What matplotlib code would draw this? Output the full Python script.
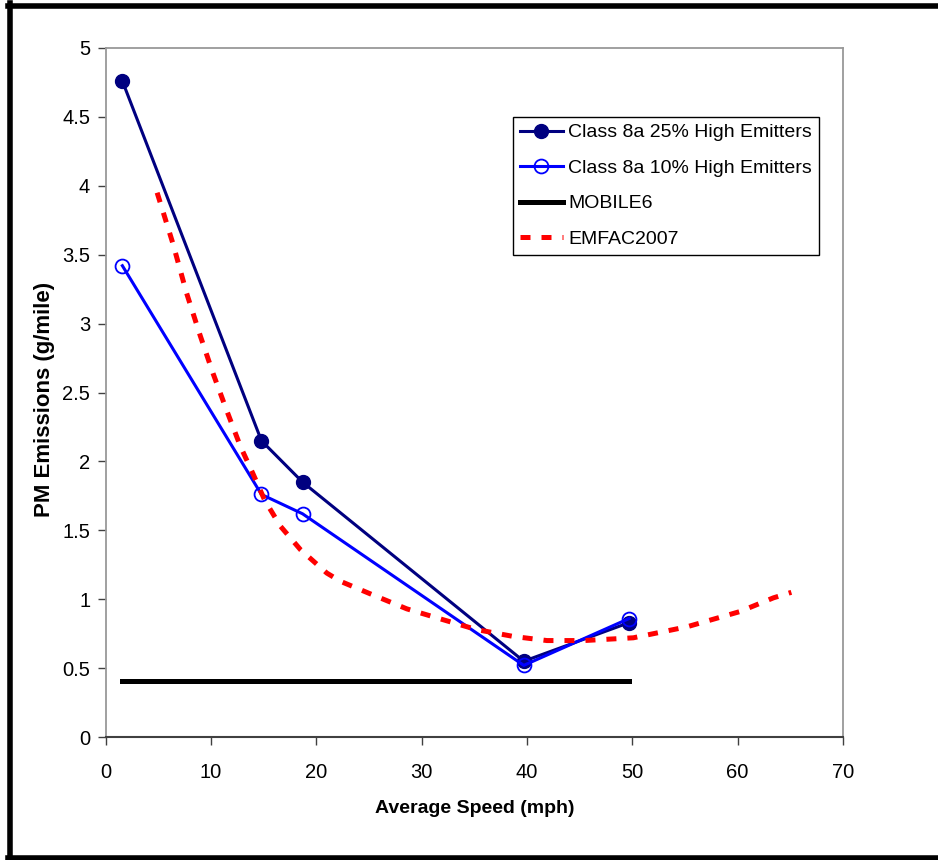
import matplotlib
matplotlib.use("Agg")
import matplotlib.pyplot as plt
from matplotlib.lines import Line2D

# speeds of the test cycles (mph)
speed = [1.6, 14.8, 18.7, 39.7, 49.7]
high25 = [4.76, 2.15, 1.85, 0.55, 0.83]
high10 = [3.42, 1.76, 1.62, 0.52, 0.86]
mobile6 = [0.41, 0.41, 0.41, 0.41, 0.41]

# EMFAC2007 curve
emfac_x = [4.9, 6.4, 7.7, 9.0, 10.2, 11.5, 12.8, 14.0, 15.1, 16.6, 18.5, 21.0,
           22.3, 25.1, 28.6, 32.1, 35.2, 38.7, 41.9, 45.4, 50.1, 55.2, 60.2, 63.4, 65.1]
emfac_y = [3.95, 3.58, 3.22, 2.91, 2.64, 2.37, 2.11, 1.91, 1.72, 1.53, 1.36, 1.19,
           1.13, 1.04, 0.93, 0.85, 0.78, 0.73, 0.70, 0.70, 0.72, 0.80, 0.91, 1.01, 1.05]

plt.rcParams['font.family'] = ['Liberation Sans', 'DejaVu Sans']

fig = plt.figure(figsize=(9.38, 8.60), dpi=100)
ax = fig.add_axes([0.1125, 0.143, 0.7862, 0.8012])

ax.plot(speed, high25, color='#000080', lw=2.2, marker='o', ms=10,
        mfc='#000080', mec='#000080', label='Class 8a 25% High Emitters')
ax.plot(speed, high10, color='#0000FF', lw=2.2, marker='o', ms=10,
        mfc='none', mec='#0000FF', mew=1.3, label='Class 8a 10% High Emitters')
ax.plot(speed, mobile6, color='black', lw=3.6, label='MOBILE6')
ax.plot(emfac_x, emfac_y, color='#FF0000', lw=3.6, dashes=(2, 2.2),
        label='EMFAC2007')

ax.set_xlim(0, 70)
ax.set_ylim(0, 5)
ax.set_xticks(range(0, 71, 10))
ax.set_yticks([0, 0.5, 1, 1.5, 2, 2.5, 3, 3.5, 4, 4.5, 5])
ax.set_yticklabels(['0', '0.5', '1', '1.5', '2', '2.5', '3', '3.5', '4', '4.5', '5'])
ax.tick_params(axis='both', direction='out', length=6, width=1, labelsize=14.5,
               color='#404040')
ax.tick_params(axis='x', pad=13)
ax.tick_params(axis='y', pad=5)

for s in ['left', 'top', 'right']:
    ax.spines[s].set_color('#999999')
    ax.spines[s].set_linewidth(1.3)
ax.spines['bottom'].set_color('#404040')
ax.spines['bottom'].set_linewidth(1.5)

ax.set_xlabel('Average Speed (mph)', fontsize=14, fontweight='bold')
ax.xaxis.set_label_coords(0.5, -0.091)
ax.xaxis.label.set_va('top')
ax.set_ylabel('PM Emissions (g/mile)', fontsize=16, fontweight='bold')
ax.yaxis.set_label_coords(-0.068, 0.49)

leg = ax.legend(loc='upper left', bbox_to_anchor=(0.5525, 0.90), borderaxespad=0,
                fontsize=14, fancybox=False, frameon=True, edgecolor='black',
                framealpha=1, handlelength=2.2, handletextpad=0.3,
                labelspacing=0.92, borderpad=0.35)
leg.get_frame().set_linewidth(1.0)

# black frame round the picture
fig.add_artist(Line2D([0.0085, 1.0], [0.9935, 0.9935], color='black', lw=4,
                      transform=fig.transFigure))
fig.add_artist(Line2D([0.0105, 0.0105], [0.0, 0.996], color='black', lw=4,
                      transform=fig.transFigure))
fig.add_artist(Line2D([0.0085, 1.0], [0.002, 0.002], color='black', lw=4,
                      transform=fig.transFigure))

fig.savefig('out.png', dpi=100)
